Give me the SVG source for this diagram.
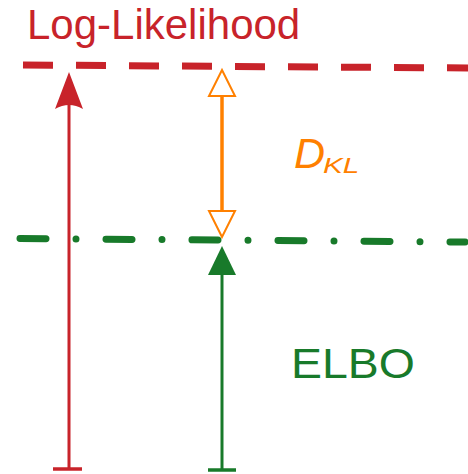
<svg xmlns="http://www.w3.org/2000/svg" width="468" height="474" viewBox="0 0 468 474">
  <style>
    .lbl { font-family: "Liberation Sans", Arial, sans-serif; }
    .red { stroke: #c8232a; fill: none; }
    .green { stroke: #187a2a; fill: none; }
    .orange { stroke: #ff8000; }
  </style>
  <defs>
    <linearGradient id="baseFade" x1="0" y1="0" x2="1" y2="0">
      <stop offset="0" stop-color="#2f5fa8"/>
      <stop offset="1" stop-color="#2f5fa8" stop-opacity="0"/>
    </linearGradient>
  </defs>

  <!-- reference levels -->
  <g id="log-likelihood-level">
    <line class="red" x1="23" y1="65" x2="468" y2="68" stroke-width="7" stroke-dasharray="30 23"/>
    <text class="lbl" x="27" y="39" font-size="42" fill="#c8232a">Log-Likelihood</text>
  </g>
  <g id="elbo-level">
    <line class="green" x1="20" y1="238.5" x2="465" y2="242" stroke-width="7" stroke-linecap="round" stroke-dasharray="26 30 0 30"/>
  </g>

  <!-- baseline -->
  <line x1="23" y1="472.5" x2="165" y2="472.5" stroke="url(#baseFade)" stroke-width="1.5"/>

  <g id="connectors">
    <!-- log-likelihood bar -->
    <g id="ll-arrow">
      <line class="red" x1="69" y1="104" x2="69" y2="469" stroke-width="3"/>
      <line class="red" x1="53" y1="469" x2="82" y2="469" stroke-width="3.5"/>
      <path d="M69,72 L83,109 Q69,101 55,109 Z" fill="#c8232a"/>
    </g>
    <!-- ELBO bar -->
    <g id="elbo-arrow">
      <line class="green" x1="222" y1="272" x2="222" y2="470" stroke-width="3"/>
      <line class="green" x1="208" y1="470" x2="236" y2="470" stroke-width="3.5"/>
      <polygon points="222,246 236,275 208,275" fill="#187a2a"/>
    </g>
    <!-- KL gap -->
    <g id="kl-arrow">
      <line class="orange" x1="222" y1="96" x2="222" y2="211" stroke-width="3.5"/>
      <polygon class="orange" points="222,70 235,96 209,96" fill="#fff" stroke-width="2"/>
      <polygon class="orange" points="209,211 235,211 222,237" fill="#fff" stroke-width="2"/>
    </g>
  </g>

  <g id="labels">
    <text class="lbl" x="294" y="168" font-size="43" font-style="italic" fill="#ff8000">D</text>
    <text class="lbl" font-size="22" font-style="italic" fill="#ff8000" transform="translate(323 173) scale(1.35 1)">KL</text>
    <text class="lbl" font-size="43" fill="#187a2a" transform="translate(291 378) scale(1.08 1)">ELBO</text>
  </g>
</svg>
